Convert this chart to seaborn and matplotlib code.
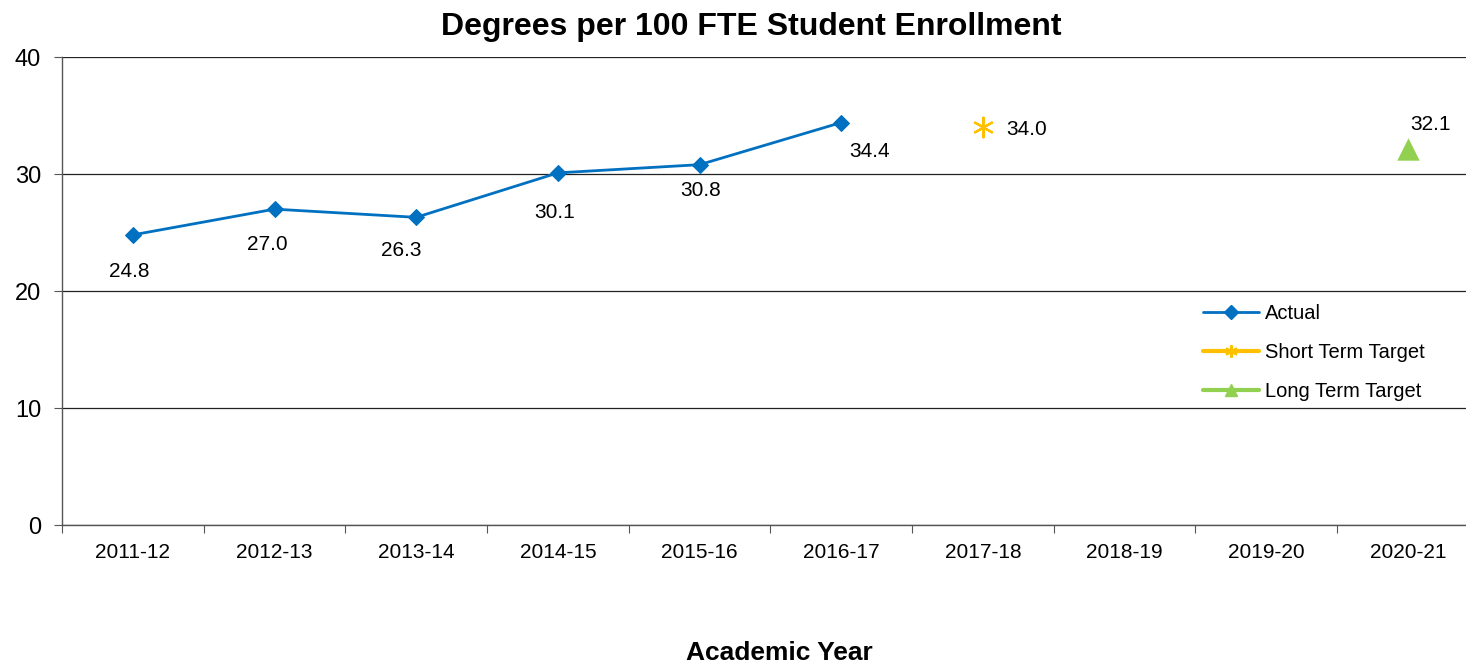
import numpy as np
import pandas as pd
import matplotlib
matplotlib.use("Agg")
import matplotlib.pyplot as plt
from matplotlib.lines import Line2D
import seaborn as sns

# Data
years = ["2011-12", "2012-13", "2013-14", "2014-15", "2015-16",
         "2016-17", "2017-18", "2018-19", "2019-20", "2020-21"]
actual = [24.8, 27.0, 26.3, 30.1, 30.8, 34.4]
short_term_year = "2017-18"
short_term_value = 34.0
long_term_year = "2020-21"
long_term_value = 32.1

BLUE = "#0070C0"
GOLD = "#FFC000"
GREEN = "#92D050"

sns.set_style("white")
plt.rcParams["font.family"] = ["Liberation Sans", "DejaVu Sans"]
plt.rcParams["text.color"] = "black"
plt.rcParams["xtick.color"] = "black"
plt.rcParams["ytick.color"] = "black"
plt.rcParams["axes.labelcolor"] = "black"

df_actual = pd.DataFrame({"pos": range(len(actual)), "value": actual})
df_short = pd.DataFrame({"pos": [years.index(short_term_year)], "value": [short_term_value]})
df_long = pd.DataFrame({"pos": [years.index(long_term_year)], "value": [long_term_value]})

fig = plt.figure(figsize=(14.66, 6.63), dpi=100)
ax = fig.add_axes([0.0423, 0.208, 0.9577, 0.706])

sns.lineplot(data=df_actual, x="pos", y="value", ax=ax, color=BLUE, lw=2,
             marker="D", markersize=8, markeredgecolor=BLUE, zorder=3)
sns.scatterplot(data=df_short, x="pos", y="value", ax=ax, color=GOLD,
                marker=(6, 2, 0), s=200, linewidth=1.6, edgecolor=GOLD, zorder=3)
sns.scatterplot(data=df_long, x="pos", y="value", ax=ax, color=GREEN,
                marker="^", s=260, linewidth=0, zorder=3)

# data labels (pixel offsets as placed in the original chart)
label_offsets = [(-4, -37), (-7, -35), (-15, -33), (-3, -40), (1, -26), (28, -29)]
for i, v in enumerate(actual):
    ax.annotate(f"{v:.1f}", (i, v), xytext=label_offsets[i], textcoords="offset pixels",
                ha="center", va="center", fontsize=15)
ax.annotate(f"{short_term_value:.1f}", (df_short.pos[0], short_term_value), xytext=(44, -2),
            textcoords="offset pixels", ha="center", va="center", fontsize=15)
ax.annotate(f"{long_term_value:.1f}", (df_long.pos[0], long_term_value), xytext=(23, 25),
            textcoords="offset pixels", ha="center", va="center", fontsize=15)

# axes (ticks first, limits after so the minor ticks don't widen the view)
ax.set_yticks([0, 10, 20, 30, 40])
ax.set_xticks(np.arange(len(years)))
ax.set_xticklabels(years, fontsize=15)
ax.set_xticks(np.arange(len(years) + 1) - 0.5, minor=True)
ax.set_xlim(-0.5, 9.41)
ax.set_ylim(0, 40)
ax.tick_params(axis="x", which="major", bottom=False, length=0, pad=13)
ax.tick_params(axis="x", which="minor", bottom=True, length=6, width=0.8, color="#555555", direction="out")
ax.tick_params(axis="y", left=True, labelsize=17, length=6, width=0.8, color="#555555", direction="out", pad=9)
ax.grid(axis="y", color="#222222", lw=0.9)
ax.set_axisbelow(True)
for s in ["top", "right"]:
    ax.spines[s].set_visible(False)
for s in ["left", "bottom"]:
    ax.spines[s].set_color("#555555")
    ax.spines[s].set_linewidth(1)

ax.set_xlabel("Academic Year", fontsize=19, fontweight="bold")
ax.xaxis.set_label_coords(0.511, -0.273)
ax.xaxis.label.set_va("center")
ax.set_ylabel("")
ax.set_title("Degrees per 100 FTE Student Enrollment", fontsize=23, fontweight="bold",
             pad=16, x=0.491)

handles = [
    Line2D([], [], color=BLUE, lw=2, marker="D", markersize=7),
    Line2D([], [], color=GOLD, lw=3, marker=(6, 2, 0), markersize=9, markeredgewidth=1.5),
    Line2D([], [], color=GREEN, lw=3, marker="^", markersize=9),
]
ax.legend(handles, ["Actual", "Short Term Target", "Long Term Target"],
          loc="upper left", bbox_to_anchor=(0.7995, 0.512), frameon=False,
          fontsize=14.5, handlelength=2.8, labelspacing=1.0, handletextpad=0.3)

plt.savefig("out.png", dpi=100)
